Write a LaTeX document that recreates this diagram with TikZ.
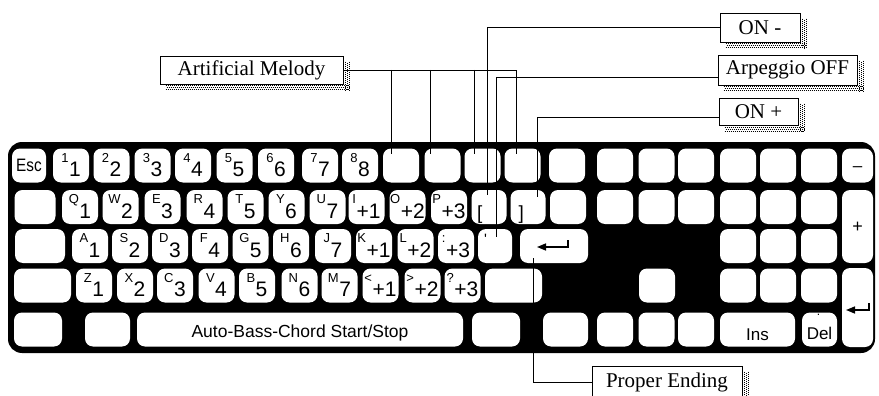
\documentclass[tikz,border=0pt]{standalone}
\usepackage{fontspec}
\setmainfont{Liberation Serif}
\newfontfamily\keyfont{Liberation Sans}
\usetikzlibrary{arrows.meta, calc}

% small legend top-left, big value bottom-right
\newcommand\kl[2]{\raisebox{0pt}[0pt][0pt]{%
  \raisebox{3.5pt}{\fontsize{13}{13}\selectfont #1}\kern0.5pt%
  \raisebox{-11pt}{\fontsize{21}{21}\selectfont #2}}}

\begin{document}
\begin{tikzpicture}[x=1pt, y=-1pt,
  key/.style={fill=white, rounded corners=8pt, inner sep=0pt,
              minimum width=36pt, minimum height=34pt, font=\keyfont},
  callout/.style={draw=black, fill=white, line width=0.9pt, inner sep=0pt,
                  minimum height=29pt, font=\fontsize{21}{21}\selectfont},
  stipple/.style={line width=0.9pt, dash pattern=on 1pt off 1pt},
  lead/.style={line width=0.8pt},
  retarr/.style={line width=1.5pt, -{Triangle[length=9pt, width=7pt]}}
]
  \useasboundingbox (0,0) rectangle (879,396);

  %--- keyboard body ---
  \node[fill=black, rounded corners=14pt, inner sep=0pt,
        minimum width=867pt, minimum height=211pt] (kbd) at (441.5,247.5) {};

  %--- row 1 ---
  \node[key, minimum width=34pt] (kesc) at (29,165.5)
    {\raisebox{-6.4pt}[0pt][0pt]{\scalebox{0.85}[1]{\fontsize{18}{18}\selectfont Esc}}};
  \foreach \x/\s/\b [count=\i] in {71/1/1,111.5/2/2,152.5/3/3,193/4/4,234.5/5/5,276/6/6,320/7/7,360/8/8}
    \node[key] (ktop\i) at (\x,165.5) {\kl{\s}{\b}};
  \foreach \x [count=\i from 9] in {401,442.5,482.5,522.5,567,615,656.5,696,738,778,819}
    \node[key] (ktop\i) at (\x,165.5) {};
  \node[key, minimum width=31pt] (kminus) at (857.5,165.5)
    {\raisebox{-5.8pt}[0pt][0pt]{\fontsize{17}{17}\selectfont\textendash}};

  %--- row 2 ---
  \node[key, minimum width=41pt] (ktab) at (35,207) {};
  \foreach \x/\s/\b [count=\i] in {80/Q/1,120.5/W/2,162.5/E/3,204.5/R/4,245.5/T/5,286.5/Y/6,327.5/U/7,366.5/I/+1,407.5/O/+2,449/P/+3}
    \node[key] (kq\i) at (\x,207) {\kl{\s}{\b}};
  \node[key, minimum width=35pt] (kbrl) at (489,207)
    {\makebox[24pt][l]{\raisebox{-12pt}[0pt][0pt]{\fontsize{19}{19}\selectfont[}}};
  \node[key, minimum width=35pt] (kbrr) at (528,207)
    {\makebox[19pt][l]{\raisebox{-12pt}[0pt][0pt]{\fontsize{19}{19}\selectfont]}}};
  \foreach \x [count=\i] in {568,615,656.5,696,738,778,819}
    \node[key] (kmid\i) at (\x,207) {};
  \node[key, minimum width=31pt, minimum height=73pt] (kplus) at (857.5,226.5)
    {\raisebox{-6pt}[0pt][0pt]{\fontsize{18}{18}\selectfont +}};

  %--- row 3 ---
  \node[key, minimum width=50pt] (kcaps) at (40,246) {};
  \foreach \x/\s/\b [count=\i] in {90/A/1,130/S/2,170/D/3,210/F/4,250.5/G/5,291/H/6,333/J/7,374/K/+1,415.5/L/+2,456/:/+3}
    \node[key] (ka\i) at (\x,246) {\kl{\s}{\b}};
  \node[key, minimum width=34pt] (kquo) at (495,246)
    {\makebox[22pt][l]{\raisebox{1.2pt}[0pt][0pt]{\fontsize{15}{15}\selectfont\textquotesingle}}};
  \node[key, minimum width=68pt] (kent) at (554,246) {};
  \foreach \x [count=\i] in {738,778,819}
    \node[key] (kpad\i) at (\x,246) {};

  %--- row 4 ---
  \node[key, minimum width=57pt] (kshl) at (42.5,285.5) {};
  \foreach \x/\s/\b [count=\i] in {94/Z/1,135/X/2,175/C/3,216.5/V/4,257/B/5,299.5/N/6,339.5/M/7,380.5/</+1,422.5/>/+2,462.5/?/+3}
    \node[key] (kz\i) at (\x,285.5) {\kl{\s}{\b}};
  \node[key, minimum width=57pt] (kshr) at (513.5,285.5) {};
  \node[key] (kup) at (657,285.5) {};
  \foreach \x [count=\i from 4] in {738,778,819}
    \node[key] (kpad\i) at (\x,285.5) {};
  \node[key, minimum width=31pt, minimum height=79pt] (kret) at (857.5,307.5) {};

  %--- row 5 ---
  \node[key, minimum width=48pt] (kctl) at (38,329.5) {};
  \node[key, minimum width=45pt] (kalt) at (107.5,329.5) {};
  \node[key, minimum width=326pt] (kspace) at (300,329.5)
    {\raisebox{-8.3pt}[0pt][0pt]{\fontsize{17.5}{17.5}\selectfont Auto-Bass-Chord Start/Stop}};
  \node[key, minimum width=48pt] (kaltr) at (496,329.5) {};
  \node[key, minimum width=45pt] (kctr) at (565.5,329.5) {};
  \foreach \x [count=\i] in {615,656.5,696}
    \node[key] (kbot\i) at (\x,329.5) {};
  \node[key, minimum width=75pt] (kins) at (757.5,329.5)
    {\raisebox{-10.5pt}[0pt][0pt]{\fontsize{17}{17}\selectfont Ins}};
  \node[key, minimum width=35pt] (kdel) at (819.5,329.5)
    {\fontsize{17}{17}\selectfont\raisebox{-10.1pt}[0pt][0pt]{Del}%
     \llap{\raisebox{14pt}[0pt][0pt]{\fontsize{12}{12}\selectfont.\kern12pt}}};

  % return arrows
  \draw[retarr] ([shift={(14,-6)}]kent.center) -- ++(0,7) -- ++(-31,0);
  \draw[retarr] ([shift={(11.5,-4.5)}]kret.center) -- ++(0,7) -- ++(-23,0);

  %--- callouts ---
  \node[callout, minimum width=183pt, minimum height=28pt] (melody) at (251.5,70) {Artificial Melody};
  \node[callout, minimum width=80pt] (onminus) at (760,27.5) {ON -};
  \node[callout, minimum width=139pt, minimum height=30pt] (arpoff) at (787.5,70) {Arpeggio OFF};
  \node[callout, minimum width=79pt, minimum height=27pt] (onplus) at (758.5,111.5) {ON +};
  \node[callout, minimum width=150pt, minimum height=32pt] (ending) at (667,382) {Proper Ending};

  % stippled shadows, right and below
  \foreach \n in {melody,onminus,arpoff,onplus,ending}
    \foreach \d/\ph in {1.5/0,3.5/1,5.5/0} {
      \draw[stipple, dash phase=\ph pt] ([shift={(\d,6)}]\n.north east) -- ([shift={(\d,6)}]\n.south east);
      \draw[stipple, dash phase=\ph pt] ([shift={(6,\d)}]\n.south west) -- ([shift={(6,\d)}]\n.south east);
    }

  %--- leaders ---
  \draw[lead] (melody.east) -| ([shift={(-6,6)}]ktop12.north);
  \foreach \k/\dx in {9/-10,10/-12,11/-8.5}
    \draw[lead] ([xshift=\dx]ktop\k.north |- melody.east) -- ([shift={(\dx,6)}]ktop\k.north);
  \draw[lead] (onminus.west) -| ([shift={(-2,5)}]kbrl.north);
  \draw[lead] ([shift={(0,7)}]arpoff.west) -| ([shift={(1,8)}]kquo.north);
  \draw[lead] ([shift={(0,5.5)}]onplus.west) -| ([shift={(9,7)}]kbrr.north);
  \draw[lead] (ending.west) -| ([shift={(-21,-5)}]kent.south);

\end{tikzpicture}
\end{document}
